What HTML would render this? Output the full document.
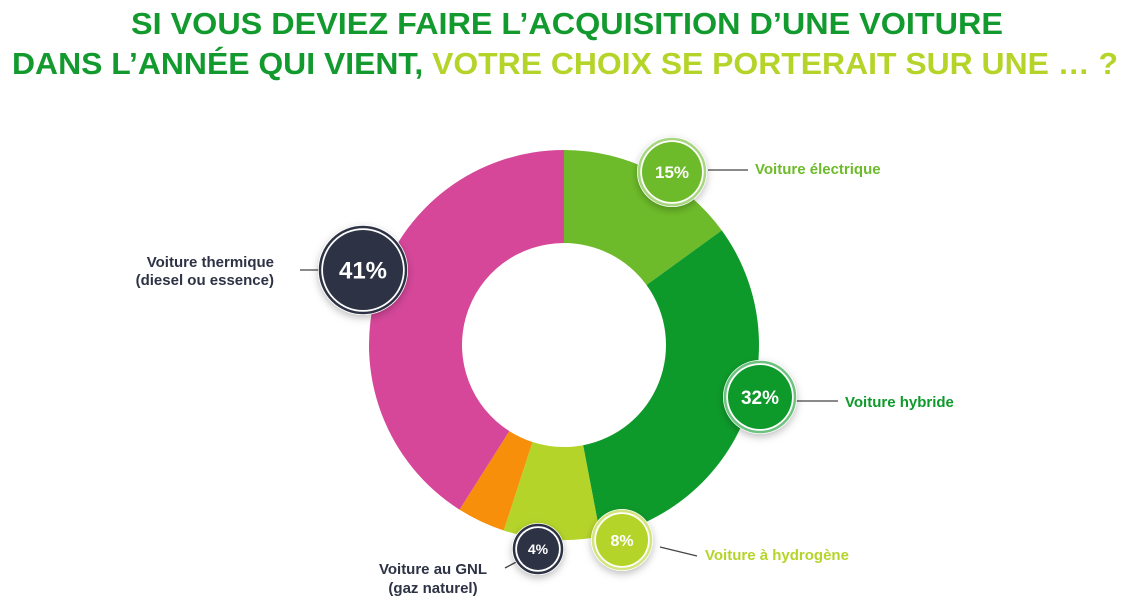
<!DOCTYPE html>
<html><head><meta charset="utf-8"><style>
html,body{margin:0;padding:0;background:#fff;}
svg{display:block;font-family:"Liberation Sans",sans-serif;}
</style></head><body>
<svg width="1127" height="616" viewBox="0 0 1127 616">
<defs>
<filter id="sh" x="-50%" y="-50%" width="200%" height="200%"><feDropShadow dx="0" dy="3" stdDeviation="4" flood-color="#000" flood-opacity="0.25"/></filter>
</defs>
<g font-family="'Liberation Sans Narrow','Liberation Sans',sans-serif" font-weight="bold" font-size="31" text-anchor="middle">
<text x="567" y="34" fill="#129a2e" textLength="872" lengthAdjust="spacingAndGlyphs">SI VOUS DEVIEZ FAIRE L’ACQUISITION D’UNE VOITURE</text>
<text x="565" y="74" textLength="1106" lengthAdjust="spacingAndGlyphs"><tspan fill="#129a2e">DANS L’ANNÉE QUI VIENT, </tspan><tspan fill="#b5d42a">VOTRE CHOIX SE PORTERAIT SUR UNE … ?</tspan></text>
</g>
<g id="slices"></g>
<g id="overlay"></g>
</svg>
<script>
const categories = ["Voiture électrique","Voiture hybride","Voiture à hydrogène","Voiture au GNL","Voiture thermique"];
const values = [15, 32, 8, 4, 41];
const valueLabels = ["15%","32%","8%","4%","41%"];
const colors = ["#6dbb2a","#0e9a2b","#b5d42a","#f78f0a","#d6479a"];
const NS="http://www.w3.org/2000/svg";
const cx=564, cy=345, R=195, r=102;
const total=values.reduce((a,b)=>a+b,0);
function pt(a,rad){return [cx+rad*Math.sin(a), cy-rad*Math.cos(a)];}
function mk(tag,attrs,parent){const e=document.createElementNS(NS,tag);for(const k in attrs)e.setAttribute(k,attrs[k]);parent.appendChild(e);return e;}
const sg=document.getElementById('slices');
let acc=0;
values.forEach((v,i)=>{
  const a0=acc/total*2*Math.PI; acc+=v; const a1=acc/total*2*Math.PI;
  const [x0,y0]=pt(a0,R),[x1,y1]=pt(a1,R),[x2,y2]=pt(a1,r),[x3,y3]=pt(a0,r);
  const lg=(a1-a0)>Math.PI?1:0;
  const p=mk('path',{d:`M${x0},${y0}A${R},${R} 0 ${lg} 1 ${x1},${y1}L${x2},${y2}A${r},${r} 0 ${lg} 0 ${x3},${y3}Z`,fill:colors[i]},sg);
  
  
});
// callout layout (positions only)
const og=document.getElementById('overlay');
const callouts=[
 {bx:672,by:172,br:30,fill:"#6dbb2a",ring:"#fff",fs:17,line:[708,170,748,170],lx:755,ly:[174],anchor:"start",lc:"#6dbb2a"},
 {bx:760,by:397,br:32,fill:"#0e9a2b",ring:"#fff",fs:19,line:[796,401,838,401],lx:845,ly:[407],anchor:"start",lc:"#0e9a2b"},
 {bx:622,by:540,br:26,fill:"#b5d42a",ring:"#fff",fs:16,line:[660,547,697,556],lx:705,ly:[560],anchor:"start",lc:"#b5d42a"},
 {bx:538,by:549,br:21,fill:"#2d3345",ring:"#2d3345",fs:14,line:[505,568,524,558],lx:433,ly:[574,593],anchor:"middle",lc:"#2d3345",text:["Voiture au GNL","(gaz naturel)"]},
 {bx:363,by:270,br:40,fill:"#2d3345",ring:"#2d3345",fs:24,line:[300,270,324,270],lx:274,ly:[267,285],anchor:"end",lc:"#2d3345",text:["Voiture thermique","(diesel ou essence)"]}
];
callouts.forEach((c,i)=>{
  const g=mk('g',{},og);
  
  
  mk('line',{x1:c.line[0],y1:c.line[1],x2:c.line[2],y2:c.line[3],stroke:"#444","stroke-width":1.3},g);
  mk('circle',{cx:c.bx,cy:c.by,r:c.br+5,fill:"#fff",filter:"url(#sh)"},g);
  mk('circle',{cx:c.bx,cy:c.by,r:c.br+3,fill:"none",stroke:c.ring==="#fff"?c.fill:c.ring,"stroke-width":2.5,opacity:c.ring==="#fff"?0.6:1},g);
  mk('circle',{cx:c.bx,cy:c.by,r:c.br,fill:c.fill},g);
  const t=mk('text',{x:c.bx,y:c.by+c.fs*0.36,"text-anchor":"middle",fill:"#fff","font-weight":"bold","font-size":c.fs},g);
  t.textContent=valueLabels[i];
  
  
  const lines=c.text||[categories[i]];
  lines.forEach((s,j)=>{
    const lt=mk('text',{x:c.lx,y:c.ly[j],"text-anchor":c.anchor,fill:c.lc,"font-weight":"bold","font-size":15},g);
    lt.textContent=s;
    
    
  });
});
</script>
</body></html>
